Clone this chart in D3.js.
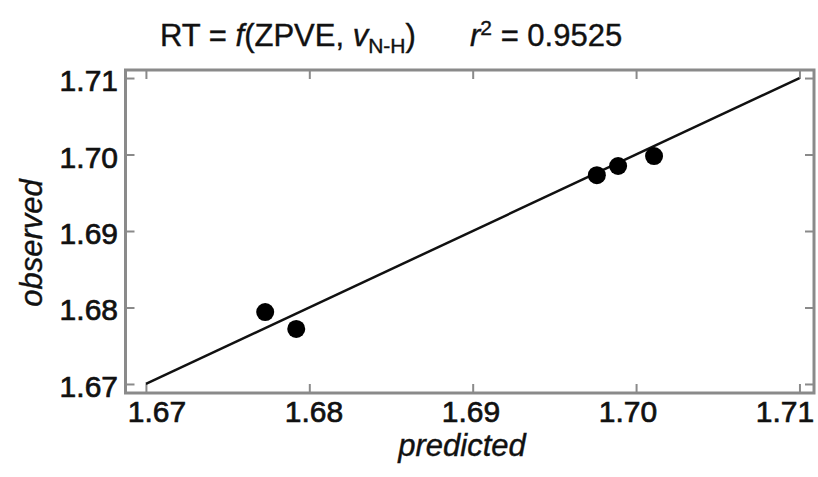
<!DOCTYPE html>
<html>
<head>
<meta charset="utf-8">
<script src="https://cdn.jsdelivr.net/npm/d3@7"></script>
<style>
  body { margin: 0; background: #fff; }
  svg { display: block; font-family: "Liberation Sans", Arial, sans-serif; }
  .tick-label { font-size: 30px; fill: #111; stroke: #111; stroke-width: 0.7px; }
  .axis-title { font-size: 31px; font-style: italic; fill: #111; stroke: #111; stroke-width: 0.4px; }
  .title { font-size: 31px; fill: #111; stroke: #111; stroke-width: 0.4px; }
</style>
</head>
<body>
<div id="chart"></div>
<script>
// observed vs predicted values
const predicted = [1.6773, 1.6792, 1.6976, 1.6989, 1.7011];
const observed = [1.6794, 1.6772, 1.6973, 1.6985, 1.6998];

// fitted line (identity)
const fitX = [1.67, 1.71];
const fitY = [1.67, 1.71];

const tickValues = [1.67, 1.68, 1.69, 1.70, 1.71];
const tickLabels = ["1.67", "1.68", "1.69", "1.70", "1.71"];

const xDomain = [1.66875, 1.71089];
const yDomain = [1.66882, 1.71105];

const width = 818;
const height = 477;
const box = { left: 125.5, right: 814, top: 70, bottom: 393 };

const svg = d3.select("#chart")
    .append("svg")
    .attr("width", width)
    .attr("height", height);

const x = d3.scaleLinear().domain(xDomain).range([box.left, box.right]);
const y = d3.scaleLinear().domain(yDomain).range([box.bottom, box.top]);

// labels under the x axis sit a bit off the ticks in the original
const xLabelPos = d3.scalePoint().domain(tickLabels).range([157, 785]);

const frameColor = "#8a8a8a";

// ticks on all four sides, pointing inwards
svg.append("g")
    .attr("transform", "translate(0," + box.bottom + ")")
    .call(d3.axisTop(x).tickValues(tickValues).tickSize(9).tickFormat(""));
svg.append("g")
    .attr("transform", "translate(0," + box.top + ")")
    .call(d3.axisBottom(x).tickValues(tickValues).tickSize(9).tickFormat(""));
svg.append("g")
    .attr("transform", "translate(" + box.left + ",0)")
    .call(d3.axisRight(y).tickValues(tickValues).tickSize(9).tickFormat(""));
svg.append("g")
    .attr("transform", "translate(" + box.right + ",0)")
    .call(d3.axisLeft(y).tickValues(tickValues).tickSize(9).tickFormat(""));

svg.selectAll(".domain").remove();
svg.selectAll(".tick line")
    .attr("stroke", frameColor)
    .attr("stroke-width", 2);

svg.append("rect")
    .attr("x", box.left)
    .attr("y", box.top)
    .attr("width", box.right - box.left)
    .attr("height", box.bottom - box.top)
    .attr("fill", "none")
    .attr("stroke", frameColor)
    .attr("stroke-width", 3);

// tick labels
svg.selectAll(".x-label")
    .data(tickLabels)
    .enter()
    .append("text")
    .attr("class", "tick-label")
    .attr("x", function(d) { return xLabelPos(d); })
    .attr("y", 422)
    .attr("text-anchor", "middle")
    .text(function(d) { return d; });

svg.selectAll(".y-label")
    .data(tickValues)
    .enter()
    .append("text")
    .attr("class", "tick-label")
    .attr("x", 118)
    .attr("y", function(d) { return y(d) + 13; })
    .attr("text-anchor", "end")
    .text(function(d, i) { return tickLabels[i]; });

// axis titles
svg.append("text")
    .attr("class", "axis-title")
    .attr("x", 462)
    .attr("y", 456)
    .attr("text-anchor", "middle")
    .text("predicted");

svg.append("text")
    .attr("class", "axis-title")
    .attr("transform", "translate(42,243) rotate(-90)")
    .attr("text-anchor", "middle")
    .text("observed");

// title
const title = svg.append("text")
    .attr("class", "title")
    .attr("x", 160)
    .attr("y", 46);
title.append("tspan").text("RT = ");
title.append("tspan").style("font-style", "italic").text("f");
title.append("tspan").text("(ZPVE, ");
title.append("tspan").style("font-style", "italic").text("v");
title.append("tspan").attr("dy", 7).style("font-size", "21px").text("N-H");
title.append("tspan").attr("dy", -7).text(")");

const title2 = svg.append("text")
    .attr("class", "title")
    .attr("x", 470)
    .attr("y", 46);
title2.append("tspan").style("font-style", "italic").text("r");
title2.append("tspan").attr("dy", -11).style("font-size", "21px").text("2");
title2.append("tspan").attr("dy", 11).text(" = 0.9525");

// fitted line
const line = d3.line()
    .x(function(d) { return x(d[0]); })
    .y(function(d) { return y(d[1]); });

svg.append("path")
    .datum(d3.zip(fitX, fitY))
    .attr("d", line)
    .attr("fill", "none")
    .attr("stroke", "#111")
    .attr("stroke-width", 2.5);

// points
svg.selectAll(".dot")
    .data(d3.zip(predicted, observed))
    .enter()
    .append("circle")
    .attr("class", "dot")
    .attr("cx", function(d) { return x(d[0]); })
    .attr("cy", function(d) { return y(d[1]); })
    .attr("r", 9)
    .attr("fill", "#000");
</script>
</body>
</html>
